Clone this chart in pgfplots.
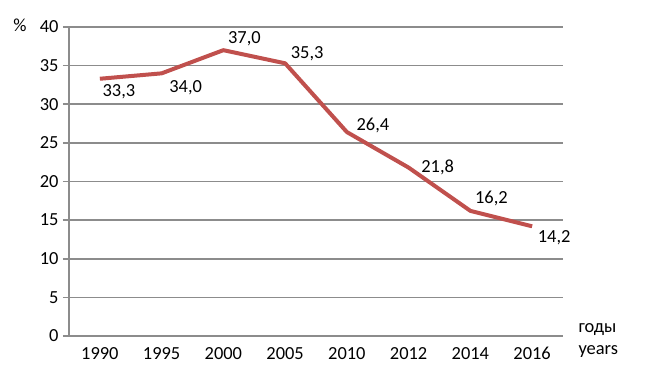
\documentclass[border=0pt]{standalone}
\usepackage{pgfplots}
\pgfplotsset{compat=1.18}
\usepackage{fontspec}
\setmainfont{Carlito}
\definecolor{linered}{HTML}{C0504D}
\definecolor{gridgray}{HTML}{8C8C8C}
\newcommand{\lblfont}{\fontsize{18.5}{21}\selectfont}
\begin{document}
\begin{tikzpicture}[every node/.style={font=\lblfont}]
\begin{axis}[
  scale only axis, width=494bp, height=309bp,
  xmin=-0.5, xmax=7.5, ymin=0, ymax=40,
  xtick={0,...,7},
  xticklabels={1990,1995,2000,2005,2010,2012,2014,2016},
  extra x ticks={-0.5,0.5,...,7.5},
  extra x tick labels={},
  extra x tick style={major tick length=6bp, tick style={gridgray, line width=1.5bp}},
  ytick={0,5,...,40},
  ymajorgrids,
  grid style={gridgray, line width=1.5bp},
  axis x line*=bottom, axis y line*=left,
  axis line style={gridgray, line width=1.5bp, -},
  x axis line style={-}, y axis line style={-},
  tick align=outside,
  major tick length=6bp,
  xtick style={draw=none},
  ytick style={gridgray, line width=1.5bp},
  tick label style={font=\lblfont},
  /pgf/number format/assume math mode=true,
  xticklabel style={yshift=-2bp},
  yticklabel style={xshift=-1bp},
  clip=false,
]
\addplot[linered, line width=4bp, line join=round] coordinates {
(0,33.3) (1,34.0) (2,37.0) (3,35.3) (4,26.4) (5,21.8) (6,16.2) (7,14.2)};
\node at (axis cs:0,33.3) [xshift=19bp, yshift=-13bp] {33,3};
\node at (axis cs:1,34.0) [xshift=24bp, yshift=-14bp] {34,0};
\node at (axis cs:2,37.0) [xshift=21bp, yshift=11bp] {37,0};
\node at (axis cs:3,35.3) [xshift=22bp, yshift=10bp] {35,3};
\node at (axis cs:4,26.4) [xshift=26bp, yshift=7bp] {26,4};
\node at (axis cs:5,21.8) [xshift=29bp, yshift=0bp] {21,8};
\node at (axis cs:6,16.2) [xshift=21bp, yshift=12bp] {16,2};
\node at (axis cs:7,14.2) [xshift=22bp, yshift=-11bp] {14,2};
\coordinate (SW) at (rel axis cs:0,0);
\coordinate (NE) at (rel axis cs:1,1);
\end{axis}
\node[anchor=west] at ([xshift=12bp,yshift=6bp]SW -| NE) {годы};
\node[anchor=west] at ([xshift=12bp,yshift=-16bp]SW -| NE) {years};
\node at ([xshift=-49bp,yshift=2bp]SW |- NE) {\%};
\useasboundingbox ([xshift=-69bp,yshift=-34bp]SW) rectangle ([xshift=82bp,yshift=27bp]NE);
\end{tikzpicture}
\end{document}
